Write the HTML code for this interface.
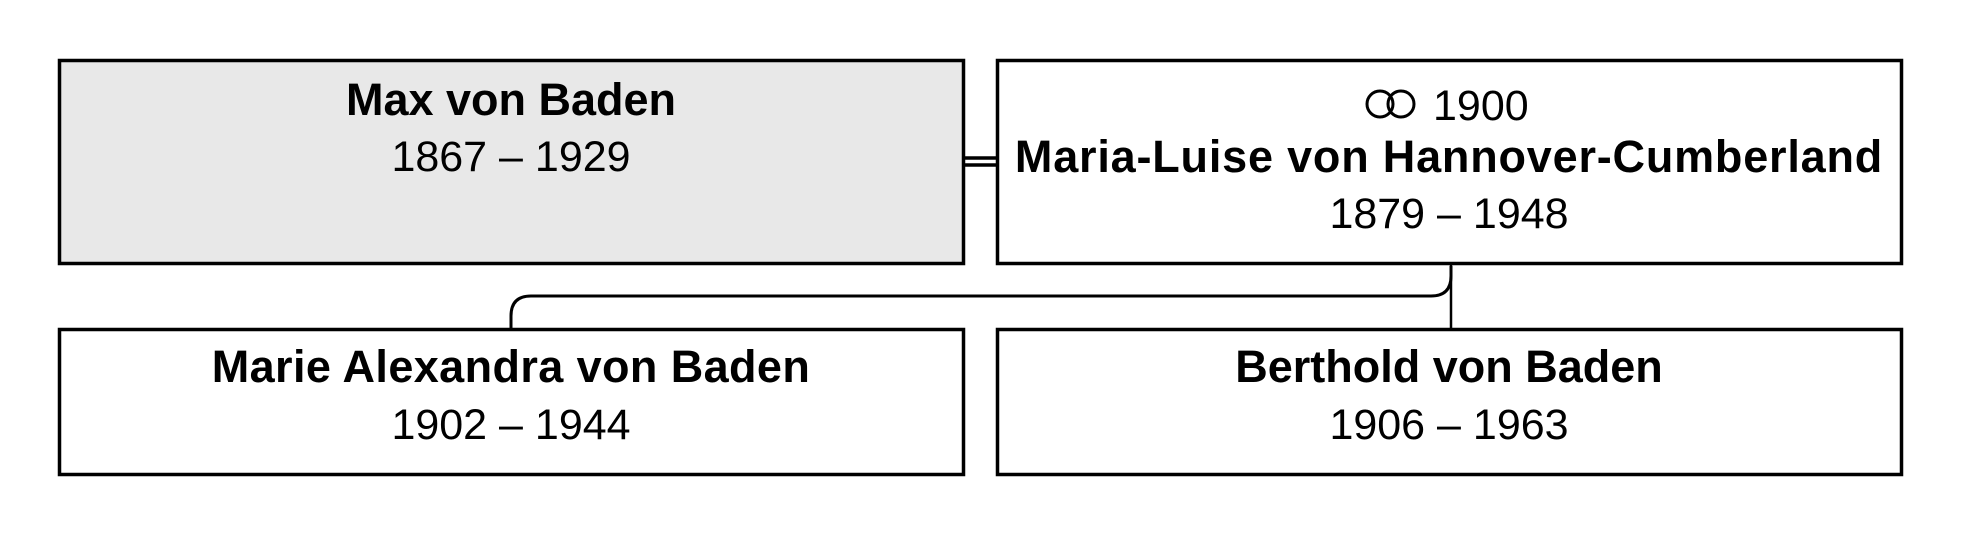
<!DOCTYPE html>
<html><head><style>
html,body{margin:0;padding:0;background:#fff;}
svg{display:block;}
text{font-family:"Liberation Sans",Arial,sans-serif;font-size:43px;fill:#000;}
.b{font-weight:bold;font-size:45px;}
</style></head><body>
<svg width="1964" height="540" viewBox="0 0 1964 540">
<rect x="0" y="0" width="1964" height="540" fill="#fff"/>
<rect x="59.5" y="60.5" width="904" height="203" fill="#e8e8e8" stroke="#000" stroke-width="3.5"/>
<rect x="997.5" y="60.5" width="904" height="203" fill="#fff" stroke="#000" stroke-width="3.5"/>
<rect x="59.5" y="329.5" width="904" height="145" fill="#fff" stroke="#000" stroke-width="3.5"/>
<rect x="997.5" y="329.5" width="904" height="145" fill="#fff" stroke="#000" stroke-width="3.5"/>
<line x1="965" y1="158" x2="996" y2="158" stroke="#000" stroke-width="3.5"/>
<line x1="965" y1="165" x2="996" y2="165" stroke="#000" stroke-width="3.5"/>
<line x1="1451" y1="265" x2="1451" y2="328" stroke="#000" stroke-width="2.5"/>
<path d="M1451 266 L1451 276 Q1451 296 1431 296 L531 296 Q511 296 511 316 L511 328" fill="none" stroke="#000" stroke-width="3"/>
<text class="b" x="511" y="115" text-anchor="middle">Max von Baden</text>
<text x="511" y="171" text-anchor="middle">1867 – 1929</text>
<circle cx="1380" cy="104" r="13" fill="none" stroke="#000" stroke-width="3"/>
<circle cx="1401" cy="104" r="13" fill="none" stroke="#000" stroke-width="3"/>
<text x="1433" y="120">1900</text>
<text class="b" x="1449" y="172" text-anchor="middle" letter-spacing="0.8">Maria-Luise von Hannover-Cumberland</text>
<text x="1449" y="228" text-anchor="middle">1879 – 1948</text>
<text class="b" x="511" y="382" text-anchor="middle" letter-spacing="0.4">Marie Alexandra von Baden</text>
<text x="511" y="439" text-anchor="middle">1902 – 1944</text>
<text class="b" x="1449" y="382" text-anchor="middle">Berthold von Baden</text>
<text x="1449" y="439" text-anchor="middle">1906 – 1963</text>
</svg>
</body></html>
